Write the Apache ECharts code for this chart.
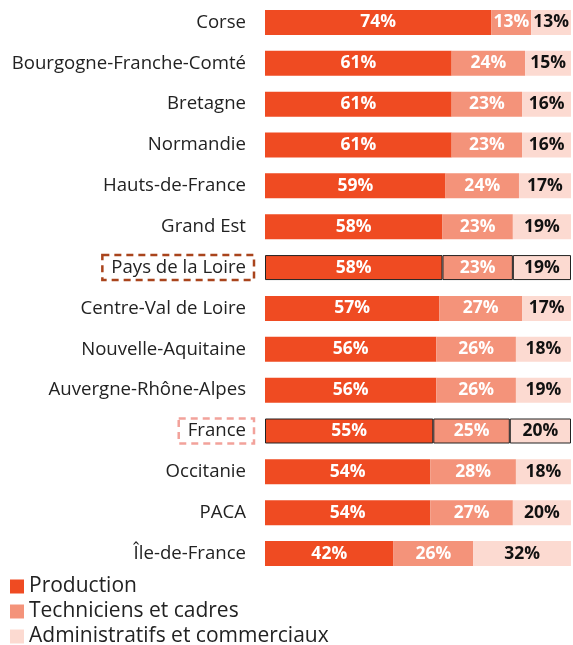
<!DOCTYPE html>
<html>
<head>
<meta charset="utf-8">
<script src="https://cdn.jsdelivr.net/npm/echarts@6/dist/echarts.min.js"></script>
<style>
  html, body { margin: 0; padding: 0; background: #fff; }
  #chart { width: 573px; height: 645px; }
</style>
</head>
<body>
<div id="chart"></div>
<script>
const regions = ['Corse', 'Bourgogne-Franche-Comté', 'Bretagne', 'Normandie', 'Hauts-de-France',
  'Grand Est', 'Pays de la Loire', 'Centre-Val de Loire', 'Nouvelle-Aquitaine',
  'Auvergne-Rhône-Alpes', 'France', 'Occitanie', 'PACA', 'Île-de-France']
const production = [74, 61, 61, 61, 59, 58, 58, 57, 56, 56, 55, 54, 54, 42]
const techniciens = [13, 24, 23, 23, 24, 23, 23, 27, 26, 26, 25, 28, 27, 26]
const administratifs = [13, 15, 16, 16, 17, 19, 19, 17, 18, 19, 20, 18, 20, 32]
const seriesNames = ['Production', 'Techniciens et cadres', 'Administratifs et commerciaux']

const colors = ['#ef4b22', '#f4937a', '#fcdad1']
const highlighted = ['Pays de la Loire', 'France']
const font = 'Open Sans'

function makeData(values) {
  return values.map((v, i) => {
    if (highlighted.includes(regions[i])) {
      return { value: v, itemStyle: { borderColor: '#222', borderWidth: 1 } }
    }
    return v
  })
}

function makeSeries(name, values, idx) {
  return {
    name: name,
    type: 'bar',
    stack: 'total',
    barWidth: 25,
    data: makeData(values),
    itemStyle: { color: colors[idx] },
    label: {
      show: true,
      position: 'inside',
      formatter: '{c}%',
      fontFamily: font,
      fontWeight: 'bold',
      fontSize: 17.5,
      color: idx === 2 ? '#111' : '#fff'
    },
    emphasis: { disabled: true }
  }
}

// one legend per entry so they stack like the reference
const legends = seriesNames.map((name, i) => ({
  orient: 'vertical',
  left: 5,
  top: 571 + i * 25,
  itemWidth: 14,
  itemHeight: 14,
  icon: 'rect',
  selectedMode: false,
  textStyle: { fontFamily: font, fontSize: 21, color: '#222', padding: [0, 0, 0, 0] },
  data: [name]
}))

const labelBox = {
  fontFamily: font, fontSize: 18.6, color: '#222',
  borderWidth: 2.5, borderType: [7, 5],
  padding: [3, 8, 3, 9]
}

const option = {
  animation: false,
  textStyle: { fontFamily: font },
  grid: { left: 265, right: 2, top: 2, bottom: 71 },
  legend: legends,
  xAxis: {
    type: 'value',
    min: 0,
    max: 100,
    show: false
  },
  yAxis: {
    type: 'category',
    inverse: true,
    data: regions,
    axisLine: { show: false },
    axisTick: { show: false },
    axisLabel: {
      margin: 11,
      fontFamily: font,
      fontSize: 18.6,
      color: '#222',
      formatter: (v) => {
        if (v === 'Pays de la Loire') return '{pays|' + v + '}'
        if (v === 'France') return '{fr|' + v + '}'
        return '{n|' + v + '}'
      },
      rich: {
        n: { fontFamily: font, fontSize: 18.6, color: '#222', padding: [0, 8, 0, 0] },
        pays: Object.assign({}, labelBox, { borderColor: '#a9441c' }),
        fr: Object.assign({}, labelBox, { borderColor: '#f2a29b' })
      }
    }
  },
  series: [
    makeSeries(seriesNames[0], production, 0),
    makeSeries(seriesNames[1], techniciens, 1),
    makeSeries(seriesNames[2], administratifs, 2)
  ]
}

const chart = echarts.init(document.getElementById('chart'))
chart.setOption(option)
</script>
</body>
</html>
